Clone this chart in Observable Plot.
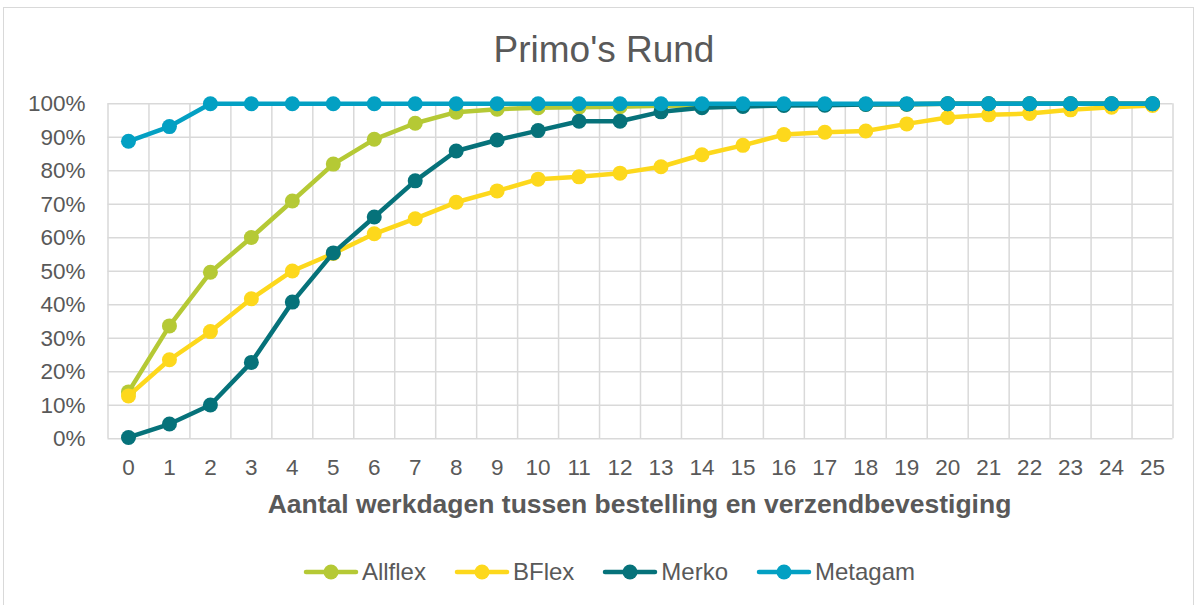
<!DOCTYPE html>
<html>
<head>
<meta charset="utf-8">
<script src="https://cdn.jsdelivr.net/npm/d3@7"></script>
<script src="https://cdn.jsdelivr.net/npm/@observablehq/plot@0.6"></script>
<style>
  html, body { margin: 0; padding: 0; background: #fff; }
  body { width: 1197px; height: 605px; position: relative; overflow: hidden; font-family: "Liberation Sans", Arial, sans-serif; }
  #frame { position: absolute; left: 3px; top: 7px; width: 1191px; height: 605px; border: 1.5px solid #d9d9d9; box-sizing: border-box; }
  #title { position: absolute; left: 0; width: 1208px; top: 30.5px; line-height: 1; text-align: center; font-size: 37px; color: #595959; }
  #chart { position: absolute; left: 0; top: 0; }
  #xtitle { position: absolute; left: 107px; width: 1065px; top: 490.5px; line-height: 1; text-align: center; font-size: 26.5px; font-weight: bold; color: #595959; white-space: nowrap; }
  #legend { position: absolute; left: 0; width: 1218px; top: 559.5px; height: 24px; line-height: 1; display: flex; justify-content: center; gap: 28px; font-size: 24px; color: #595959; }
  .item { display: flex; align-items: center; }
  .item svg { margin-right: 3px; }
</style>
</head>
<body>
<div id="frame"></div>
<div id="chart"></div>
<div id="title">Primo's Rund</div>
<div id="xtitle">Aantal werkdagen tussen bestelling en verzendbevestiging</div>
<div id="legend"></div>
<script>
const days = d3.range(0, 26);
const seriesNames = ["Allflex", "BFlex", "Merko", "Metagam"];
const seriesColors = ["#b5c935", "#fdd81c", "#06727a", "#03a0c3"];
const allflex = [14, 33.7, 49.7, 60.1, 71, 82, 89.4, 94.2, 97.5, 98.4, 98.8, 99, 99.1, 99.4, 99.5, 99.6, 99.7, 99.8, 99.9, 99.9, 100, 100, 100, 100, 100, 100];
const bflex = [12.8, 23.6, 32, 41.8, 50.1, 55.3, 61.2, 65.7, 70.6, 74, 77.5, 78.2, 79.3, 81.2, 84.8, 87.6, 90.8, 91.5, 91.9, 94, 95.9, 96.7, 97.1, 98.2, 99, 99.5];
const merko = [0.4, 4.4, 10.1, 22.8, 40.8, 55.5, 66.2, 77, 85.9, 89.2, 92, 94.8, 94.8, 97.6, 98.8, 99.2, 99.5, 99.6, 99.8, 99.9, 100, 100, 100, 100, 100, 100];
const metagam = [88.8, 93.2, 100, 100, 100, 100, 100, 100, 100, 100, 100, 100, 100, 100, 100, 100, 100, 100, 100, 100, 100, 100, 100, 100, 100, 100];
const yTicks = [0, 10, 20, 30, 40, 50, 60, 70, 80, 90, 100];

const allValues = [allflex, bflex, merko, metagam];
const rows = [];
seriesNames.forEach((name, i) => {
  days.forEach((d, j) => rows.push({series: name, day: d, value: allValues[i][j] / 100}));
});
const bounds = d3.range(-0.5, 26, 1);

const marks = [
  Plot.ruleX(bounds, {x: d => d, stroke: "#d9d9d9", strokeWidth: 1.5}),
  Plot.ruleY(yTicks, {y: d => d / 100, stroke: "#d9d9d9", strokeWidth: 1.5}),
  Plot.axisY({ticks: yTicks.map(d => d / 100), tickFormat: d => Math.round(d * 100) + "%", tickSize: 0, tickPadding: 22.5, fontSize: 22.5, color: "#595959", label: null}),
  Plot.axisX({ticks: days, tickFormat: d => String(d), tickSize: 0, tickPadding: 20, fontSize: 22.5, color: "#595959", label: null})
];
seriesNames.forEach((name, i) => {
  const data = rows.filter(r => r.series === name);
  marks.push(Plot.line(data, {x: "day", y: "value", stroke: seriesColors[i], strokeWidth: 4.5, strokeLinejoin: "round", strokeLinecap: "round"}));
  marks.push(Plot.dot(data, {x: "day", y: "value", fill: seriesColors[i], r: 7.5, stroke: "none"}));
});

const chart = Plot.plot({
  width: 1197,
  height: 490,
  marginLeft: 107.5,
  marginRight: 24.5,
  marginTop: 103.3,
  marginBottom: 51.7,
  x: {domain: [-0.5, 25.5]},
  y: {domain: [0, 1]},
  style: {fontFamily: "'Liberation Sans', Arial, sans-serif", background: "transparent", overflow: "visible"},
  marks
});
document.getElementById("chart").appendChild(chart);

const legend = document.getElementById("legend");
seriesNames.forEach((name, i) => {
  const item = document.createElement("div");
  item.className = "item";
  item.innerHTML = `<svg width="56" height="20"><line x1="3" x2="53" y1="10" y2="10" stroke="${seriesColors[i]}" stroke-width="4.5" stroke-linecap="round"/><circle cx="28" cy="10" r="7.5" fill="${seriesColors[i]}"/></svg><span>${name}</span>`;
  legend.appendChild(item);
});
</script>
</body>
</html>
